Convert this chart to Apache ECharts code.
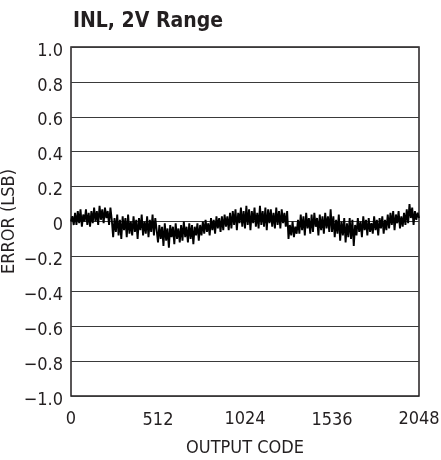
<!DOCTYPE html>
<html>
<head>
<meta charset="utf-8">
<script src="https://cdn.jsdelivr.net/npm/echarts@6/dist/echarts.min.js"></script>
<style>html,body{margin:0;padding:0;background:#fff}#c{width:441px;height:460px}</style>
</head>
<body>
<div id="c"></div>
<script>
var codeStep = 8;
var inlValues = [
  0.00, 0.03, -0.02,
  0.05, -0.02, 0.06, -0.01, 0.07, -0.03, 0.04, 0.00, 0.07, -0.02, 0.05, -0.03, 0.06,
  -0.01, 0.08, 0.00, 0.06, -0.02, 0.09, 0.01, 0.07, -0.01, 0.08, 0.02, 0.06, -0.02, 0.08, 0.01,
  -0.09, 0.02, -0.06, 0.04, -0.08, 0.01, -0.10, 0.03, -0.05, 0.02, -0.09, 0.04, -0.07, 0.00, -0.08, 0.03, -0.06, 0.01, -0.10, 0.02, -0.05, 0.04, -0.08, 0.00, -0.07, 0.03, -0.09, 0.01, -0.06, 0.04, -0.08, 0.02, -0.05,
  -0.12, -0.02, -0.10, -0.03, -0.14, -0.01, -0.11, -0.04, -0.15, -0.02, -0.09, -0.03, -0.13, -0.01, -0.10, -0.04, -0.12, -0.02, -0.11, 0.00, -0.09, -0.03, -0.12, -0.01, -0.10, -0.02, -0.13, -0.03, -0.08, -0.01, -0.11, -0.02,
  -0.08, 0.00, -0.07, 0.01, -0.06, -0.01, -0.08, 0.02, -0.05, 0.01, -0.07, 0.03, -0.04, 0.02, -0.06, 0.03, -0.05, 0.04, -0.03, 0.03, -0.05, 0.05,
  -0.04, 0.06, -0.02, 0.07, -0.05, 0.05, -0.01, 0.08, -0.03, 0.06, -0.04, 0.09, -0.02, 0.07, -0.05, 0.06, -0.01, 0.08, -0.03, 0.05, -0.04, 0.09, -0.02, 0.06, -0.03, 0.08, -0.05, 0.07, -0.01,
  0.07, -0.03, 0.05, -0.04, 0.08, -0.02, 0.06, -0.04, 0.07, -0.01, 0.05, -0.03, 0.06,
  -0.10, -0.02, -0.08, 0.00, -0.09, -0.03, -0.07, 0.01,
  -0.07, 0.04, -0.05, 0.03, -0.08, 0.05, -0.04, 0.02, -0.07, 0.04, -0.06, 0.05, -0.03, 0.02, -0.08, 0.04, -0.05, 0.03, -0.07, 0.05, -0.04, 0.03, -0.06, 0.07,
  -0.06, 0.03, -0.09, 0.01, -0.07, 0.04, -0.11, 0.00, -0.08, 0.02, -0.12, -0.01, -0.09, 0.02, -0.10, 0.01, -0.14, -0.02,
  -0.08, 0.02, -0.06, 0.00, -0.09, 0.03, -0.05, 0.01, -0.08, 0.02, -0.06, -0.01, -0.07, 0.03, -0.05, 0.01, -0.08, 0.02, -0.04, 0.03, -0.07, 0.01, -0.05, 0.04,
  -0.04, 0.05, -0.02, 0.06, -0.05, 0.04, -0.01, 0.06, -0.04, 0.03, -0.03, 0.05, -0.02,
  0.07, -0.01, 0.10, 0.02, 0.08, -0.02, 0.06, 0.01, 0.05, 0.02
];
var xTicks = [0, 512, 1024, 1536, 2048];
var yMin = -1.0, yMax = 1.0, yStep = 0.2;

var data = inlValues.map(function (v, i) { return [i * codeStep, v]; });
var FONT = '"Liberation Sans Narrow", "DejaVu Sans Condensed", "Liberation Sans", sans-serif';

var chart = echarts.init(document.getElementById('c'), null, {renderer: 'canvas'});
chart.setOption({
  animation: false,
  backgroundColor: '#fff',
  title: {
    text: 'INL, 2V Range',
    left: 68, top: 6,
    textStyle: {fontFamily: FONT, fontSize: 21, fontWeight: 'bold', color: '#231f20'}
  },
  grid: {
    left: 71, right: 22, top: 47, bottom: 64,
    outerBoundsMode: 'none', containLabel: false,
    show: true, borderColor: '#231f20', borderWidth: 1.5, backgroundColor: 'transparent'
  },
  xAxis: {
    type: 'value', min: 0, max: 2048, interval: 512,
    name: 'OUTPUT CODE', nameLocation: 'middle', nameGap: 43, nameMoveOverlap: false,
    nameTextStyle: {fontFamily: FONT, fontSize: 18, color: '#231f20'},
    axisLine: {show: false}, axisTick: {show: false}, splitLine: {show: false},
    axisLabel: {
      fontFamily: FONT, fontSize: 18, color: '#231f20', margin: 14,
      showMinLabel: true, showMaxLabel: true,
      formatter: function (v) { return (v === 512 || v === 1536) ? '{lo|' + v + '}' : String(v); },
      rich: {lo: {fontFamily: FONT, fontSize: 18, color: '#231f20', padding: [1, 0, 0, 0]}}
    }
  },
  yAxis: {
    type: 'value', min: yMin, max: yMax, interval: yStep,
    name: 'ERROR (LSB)', nameLocation: 'middle', nameGap: 53, nameRotate: 90, nameMoveOverlap: false,
    nameTextStyle: {fontFamily: FONT, fontSize: 18, color: '#231f20'},
    axisLine: {show: false}, axisTick: {show: false},
    splitLine: {show: true, lineStyle: {color: '#3a3a3a', width: 1}},
    axisLabel: {
      fontFamily: FONT, fontSize: 18, color: '#231f20', margin: 8,
      formatter: function (v) {
        var r = Math.round(v * 10) / 10;
        var s = r === 0 ? '0' : (r < 0 ? '\u2212' : '') + Math.abs(r).toFixed(1);
        return '{d|' + s + '}';
      },
      rich: {d: {fontFamily: FONT, fontSize: 18, color: '#231f20', padding: [8, 0, 0, 0]}}
    }
  },
  series: [{
    type: 'line', data: data, showSymbol: false, sampling: null,
    lineStyle: {color: '#000', width: 1.9}, z: 5
  }]
});
</script>
</body>
</html>
